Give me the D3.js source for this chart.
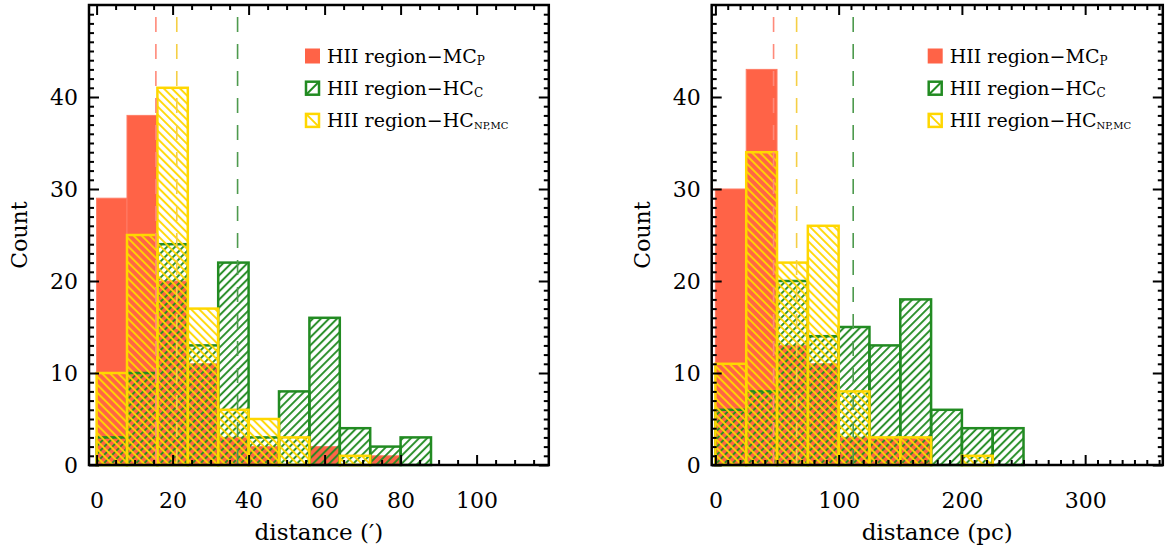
<!DOCTYPE html>
<html>
<head>
<meta charset="utf-8">
<script src="https://cdn.jsdelivr.net/npm/d3@7"></script>
<style>
  body { margin: 0; background: #fff; }
  svg { display: block; font-family: "DejaVu Serif", serif; }
</style>
</head>
<body>
<div id="chart"></div>
<script>
// Histogram bins (left edge of each bin) and counts
const binsArcmin = [0, 8, 16, 24, 32, 40, 48, 56, 64, 72, 80];
const arcminMCP  = [29, 38, 20, 11, 3, 2, 0, 2, 0, 1, 0];
const arcminHCC  = [3, 10, 24, 13, 22, 3, 8, 16, 4, 2, 3];
const arcminHCNP = [10, 25, 41, 17, 6, 5, 3, 0, 1, 0, 0];

const binsPc = [0, 25, 50, 75, 100, 125, 150, 175, 200, 225];
const pcMCP  = [30, 43, 13, 11, 3, 3, 3, 0, 0, 0];
const pcHCC  = [6, 8, 20, 14, 15, 13, 18, 6, 4, 4];
const pcHCNP = [11, 34, 22, 26, 8, 3, 3, 0, 1, 0];

// median distances (dashed lines): MC_P, HC_NP,MC, HC_C
const arcminMedians = [15.6, 21.1, 37.1];
const pcMedians = [47.2, 65.9, 111.8];

const arcminTicks = [0, 20, 40, 60, 80, 100];
const pcTicks = [0, 100, 200, 300];
const countTicks = [0, 10, 20, 30, 40];

const red = '#FF6347', green = '#228B22', yellow = '#FFD700';

const width = 1172, height = 546;
const svg = d3.select('#chart').append('svg')
  .attr('width', width)
  .attr('height', height);

// hatch patterns
const defs = svg.append('defs');
function hatch(id, color, angle) {
  defs.append('pattern')
    .attr('id', id)
    .attr('patternUnits', 'userSpaceOnUse')
    .attr('width', 5.7)
    .attr('height', 10)
    .attr('patternTransform', `rotate(${angle})`)
    .append('line')
    .attr('x1', 2).attr('y1', 0)
    .attr('x2', 2).attr('y2', 10)
    .attr('stroke', color)
    .attr('stroke-width', 1.9);
}
hatch('hatchGreen', green, 45);
hatch('hatchYellow', yellow, -45);

function drawPanel(p) {
  const top = 5, bottom = 465;
  const x = d3.scaleLinear().domain(p.xDomain).range([p.left, p.right]);
  const y = d3.scaleLinear().domain([0, 50]).range([bottom, top]);
  const g = svg.append('g');

  // bars: filled MC_P, then hatched HC_C, then hatched HC_NP,MC
  const series = [
    { values: p.mcp, fill: red, stroke: '#FF7D66', sw: 1 },
    { values: p.hcc, fill: 'url(#hatchGreen)', stroke: green, sw: 2.5 },
    { values: p.hcnp, fill: 'url(#hatchYellow)', stroke: yellow, sw: 2.5 }
  ];
  series.forEach(s => {
    g.append('g')
      .selectAll('rect')
      .data(p.bins.map((b, i) => ({ b, v: s.values[i] })).filter(d => d.v > 0))
      .join('rect')
      .attr('x', d => x(d.b))
      .attr('y', d => y(d.v))
      .attr('width', d => x(d.b + p.binWidth) - x(d.b))
      .attr('height', d => y(0) - y(d.v))
      .attr('fill', s.fill)
      .attr('stroke', s.stroke)
      .attr('stroke-width', s.sw);
  });

  // dashed median lines
  const medColors = ['#FF8A7A', '#F5CF45', '#4E9A4E'];
  g.append('g')
    .selectAll('line')
    .data(p.medians)
    .join('line')
    .attr('x1', d => x(d)).attr('x2', d => x(d))
    .attr('y1', y(48.7)).attr('y2', y(0))
    .attr('stroke', (d, i) => medColors[i])
    .attr('stroke-width', 1.6)
    .attr('stroke-dasharray', '15 12');

  // axes (ticks inward on all four sides)
  const minorX = d3.range(0, p.xDomain[1], p.minorStep).filter(v => !p.ticks.includes(v));
  const minorY = d3.range(0, 50, 1).filter(v => v % 10 !== 0);

  function styleAxis(sel) {
    sel.select('.domain').remove();
    sel.attr('font-family', null).attr('font-size', 22);
    sel.selectAll('line').attr('stroke', '#000').attr('stroke-width', 2);
    sel.selectAll('text').attr('fill', '#000');
  }

  g.append('g').attr('transform', `translate(0,${bottom})`)
    .call(d3.axisBottom(x).tickValues(p.ticks).tickSizeInner(-10).tickSizeOuter(0).tickPadding(27))
    .call(styleAxis);
  g.append('g').attr('transform', `translate(0,${bottom})`)
    .call(d3.axisBottom(x).tickValues(minorX).tickSize(-5).tickFormat(''))
    .call(styleAxis);
  g.append('g').attr('transform', `translate(0,${top})`)
    .call(d3.axisTop(x).tickValues(p.ticks).tickSize(-10).tickFormat(''))
    .call(styleAxis);
  g.append('g').attr('transform', `translate(0,${top})`)
    .call(d3.axisTop(x).tickValues(minorX).tickSize(-5).tickFormat(''))
    .call(styleAxis);

  g.append('g').attr('transform', `translate(${p.left},0)`)
    .call(d3.axisLeft(y).tickValues(countTicks).tickSizeInner(-10).tickSizeOuter(0).tickPadding(11))
    .call(styleAxis);
  g.append('g').attr('transform', `translate(${p.left},0)`)
    .call(d3.axisLeft(y).tickValues(minorY).tickSize(-5).tickFormat(''))
    .call(styleAxis);
  g.append('g').attr('transform', `translate(${p.right},0)`)
    .call(d3.axisRight(y).tickValues(countTicks).tickSize(-10).tickFormat(''))
    .call(styleAxis);
  g.append('g').attr('transform', `translate(${p.right},0)`)
    .call(d3.axisRight(y).tickValues(minorY).tickSize(-5).tickFormat(''))
    .call(styleAxis);

  // frame
  g.append('rect')
    .attr('x', p.left).attr('y', top)
    .attr('width', p.right - p.left).attr('height', bottom - top)
    .attr('fill', 'none')
    .attr('stroke', '#000')
    .attr('stroke-width', 2.5);

  // axis titles
  g.append('text')
    .attr('x', (p.left + p.right) / 2)
    .attr('y', 540)
    .attr('text-anchor', 'middle')
    .attr('font-size', 23)
    .text(p.xTitle);
  g.append('text')
    .attr('transform', `translate(${p.left - 62},${(top + bottom) / 2}) rotate(-90)`)
    .attr('text-anchor', 'middle')
    .attr('font-size', 22)
    .text('Count');

  // legend
  const lx = p.left + 216;
  const legend = g.append('g').attr('font-size', 19);
  const items = [
    { sub: 'P', kind: 'fill' },
    { sub: 'C', kind: 'green' },
    { sub: 'NP,MC', kind: 'yellow' }
  ];
  items.forEach((it, i) => {
    const cy = 56 + i * 32.2;
    if (it.kind === 'fill') {
      legend.append('rect')
        .attr('x', lx).attr('y', cy - 7.5).attr('width', 15).attr('height', 15)
        .attr('fill', red);
    } else {
      const c = it.kind === 'green' ? green : yellow;
      legend.append('rect')
        .attr('x', lx + 1).attr('y', cy - 6.5).attr('width', 13).attr('height', 13)
        .attr('fill', '#fff').attr('stroke', c).attr('stroke-width', 2.5);
      legend.append('line')
        .attr('x1', lx + 1).attr('x2', lx + 14)
        .attr('y1', it.kind === 'green' ? cy + 6.5 : cy - 6.5)
        .attr('y2', it.kind === 'green' ? cy - 6.5 : cy + 6.5)
        .attr('stroke', c).attr('stroke-width', 2);
    }
    const t = legend.append('text')
      .attr('x', lx + 22)
      .attr('y', cy + 6.5);
    t.append('tspan').text('HII region\u2212' + (i === 0 ? 'MC' : 'HC'));
    t.append('tspan')
      .attr('font-size', it.sub.length > 1 ? 10 : 12)
      .attr('dy', 2)
      .text(it.sub);
  });
}

drawPanel({
  left: 89, right: 548.8, xDomain: [-2, 119],
  bins: binsArcmin, binWidth: 8,
  mcp: arcminMCP, hcc: arcminHCC, hcnp: arcminHCNP,
  medians: arcminMedians,
  ticks: arcminTicks, minorStep: 5,
  xTitle: 'distance (\u2032)'
});

drawPanel({
  left: 711.7, right: 1162.8, xDomain: [-3, 363],
  bins: binsPc, binWidth: 25,
  mcp: pcMCP, hcc: pcHCC, hcnp: pcHCNP,
  medians: pcMedians,
  ticks: pcTicks, minorStep: 10,
  xTitle: 'distance (pc)'
});
</script>
</body>
</html>
